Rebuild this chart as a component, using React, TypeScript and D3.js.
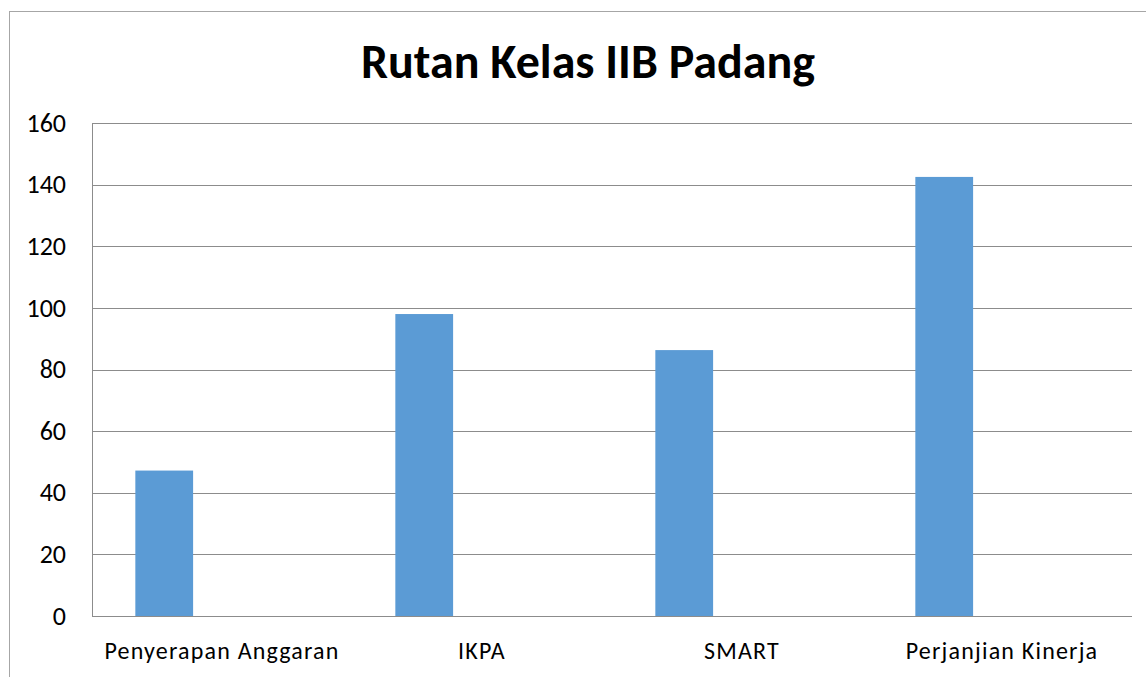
import React from "react";
import * as d3 from "d3";

const categories = ["Penyerapan Anggaran", "IKPA", "SMART", "Perjanjian Kinerja"];
const series1 = [47.2, 98, 86.3, 142.5];
const series2: (number | null)[] = [null, null, null, null];
const series3: (number | null)[] = [null, null, null, null];
const yTicks = [0, 20, 40, 60, 80, 100, 120, 140, 160];

const W = 1146;
const H = 677;
const plot = { left: 92, top: 123, right: 1132, bottom: 616 };
const font = "Calibri, Carlito, 'Open Sans', sans-serif";

export default function App() {
  const x = d3
    .scaleBand<string>()
    .domain(categories)
    .range([plot.left, plot.right]);

  const y = d3.scaleLinear().domain([0, 160]).range([plot.bottom, plot.top]);

  // excel-style cluster: 3 series, gap width 150%
  const seriesList = [series1, series2, series3];
  const barW = x.bandwidth() / (seriesList.length + 1.5);
  const gap = barW * 0.75;

  return (
    <svg
      width={W}
      height={H}
      style={{ position: "absolute", left: 0, top: 0, background: "#fff" }}
    >
      <rect x={9.5} y={11.5} width={W + 20} height={H + 20} fill="#fff" stroke="#a6a6a6" />

      <text
        x={588}
        y={78}
        textAnchor="middle"
        fontFamily={font}
        fontWeight="bold"
        fontSize={48}
        fill="#000"
      >
        Rutan Kelas IIB Padang
      </text>

      {yTicks.map((t) => (
        <g key={t}>
          <line
            x1={plot.left}
            x2={plot.right}
            y1={Math.round(y(t)) + 0.5}
            y2={Math.round(y(t)) + 0.5}
            stroke="#8c8c8c"
            strokeWidth={1}
          />
          <text
            x={66}
            y={y(t) + 8.7}
            textAnchor="end"
            fontFamily={font}
            fontSize={26}
            fill="#000"
          >
            {t}
          </text>
        </g>
      ))}

      <line
        x1={plot.left + 0.5}
        x2={plot.left + 0.5}
        y1={plot.top}
        y2={plot.bottom}
        stroke="#8c8c8c"
      />

      {seriesList.map((s, si) =>
        s.map((v, i) =>
          v == null ? null : (
            <rect
              key={si + "-" + i}
              x={(x(categories[i]) as number) + gap + si * barW}
              y={y(v)}
              width={barW}
              height={y(0) - y(v)}
              fill="#5b9bd5"
            />
          )
        )
      )}

      {categories.map((c) => (
        <text
          key={c}
          x={(x(c) as number) + x.bandwidth() / 2}
          y={659}
          textAnchor="middle"
          fontFamily={font}
          fontSize={24}
          letterSpacing={1.2}
          fill="#000"
        >
          {c}
        </text>
      ))}
    </svg>
  );
}
